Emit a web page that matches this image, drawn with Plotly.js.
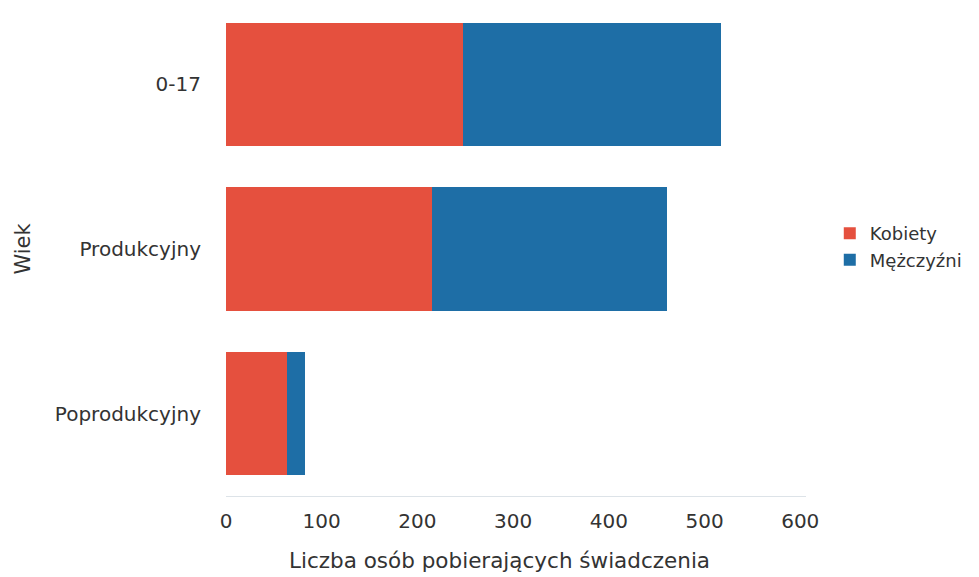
<!DOCTYPE html>
<html><head><meta charset="utf-8">
<script src="https://cdn.plot.ly/plotly-3.0.1.min.js"></script>
<style>html,body{margin:0;padding:0;background:#fff}#c{width:979px;height:577px}</style>
</head><body><div id="c"></div>
<script>
const categories = ["0-17", "Produkcyjny", "Poprodukcyjny"];
const kobiety = [248, 215, 64];
const mezczyzni = [269, 246, 19];
const xTicks = [0, 100, 200, 300, 400, 500, 600];

const font = "DejaVu Sans, Verdana, sans-serif";
const traces = [
  {type:'bar', orientation:'h', name:'Kobiety', y:categories, x:kobiety,
   marker:{color:'#e5503e', line:{width:0}}},
  {type:'bar', orientation:'h', name:'Mężczyźni', y:categories, x:mezczyzni,
   marker:{color:'#1e6ea6', line:{width:0}}}
];
const layout = {
  width:979, height:577, barmode:'stack', bargap:0.25,
  paper_bgcolor:'#fff', plot_bgcolor:'#fff',
  margin:{l:226, r:173, t:2, b:81},
  font:{family:font, size:17, color:'#333'},
  xaxis:{range:[0,606], tickvals:xTicks, showgrid:false, zeroline:false,
    showline:true, linecolor:'#dde3e8', linewidth:1,
    ticks:'outside', ticklen:7, tickcolor:'rgba(0,0,0,0)',
    tickfont:{size:20, color:'#333'}},
  yaxis:{autorange:'reversed', showgrid:false, zeroline:false, showline:false,
    ticks:'outside', ticklen:20, tickcolor:'rgba(0,0,0,0)',
    tickfont:{size:20, color:'#333'},
    title:{text:'Wiek', font:{size:21, color:'#333'}, standoff:18}},
  annotations:[{text:'Liczba osób pobierających świadczenia', xref:'paper', yref:'paper',
    x:0.472, y:-0.13, xanchor:'center', yanchor:'middle', showarrow:false,
    font:{size:21.5, color:'#333'}}],
  legend:{x:1.041, xanchor:'left', y:0.505, yanchor:'middle', font:{size:18, color:'#333'},
    tracegroupgap:0, itemsizing:'constant', traceorder:'normal'},
  showlegend:true
};
Plotly.newPlot('c', traces, layout, {displayModeBar:false, staticPlot:true});
</script></body></html>
